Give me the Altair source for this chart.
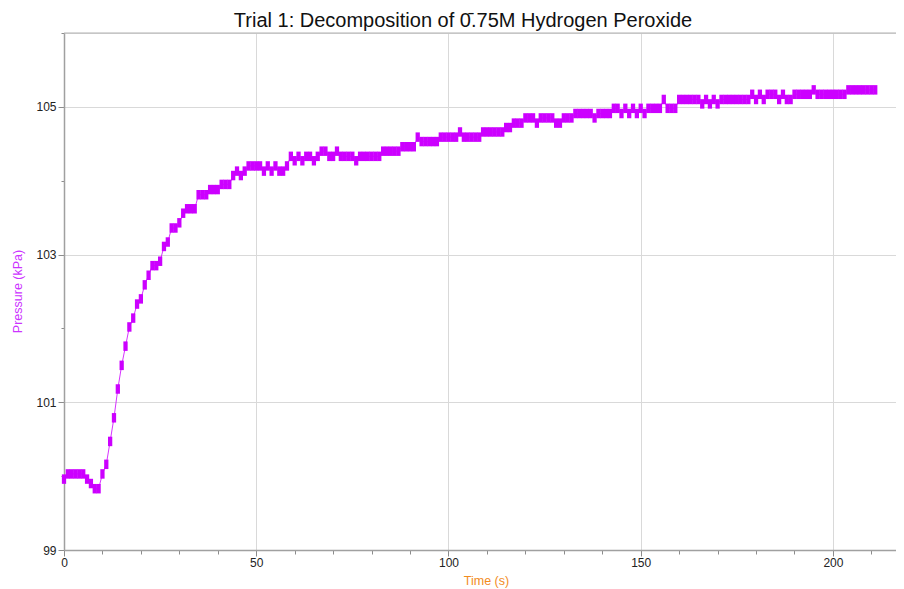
import altair as alt
import pandas as pd

# Sampling times (s), one reading per second
TIME_S = list(range(0, 212))

# Pressure readings (kPa)
PRESSURE_KPA = [
    99.96, 100.03, 100.03, 100.03, 100.03, 100.03, 99.96, 99.90, 99.83, 99.83,
    100.03, 100.16, 100.47, 100.79, 101.18, 101.50, 101.76, 102.02, 102.14, 102.33,
    102.40, 102.59, 102.72, 102.85, 102.85, 102.91, 103.11, 103.17, 103.36, 103.36,
    103.43, 103.56, 103.62, 103.62, 103.62, 103.81, 103.81, 103.81, 103.88, 103.88,
    103.88, 103.95, 103.95, 103.95, 104.07, 104.13, 104.07, 104.13, 104.20, 104.20,
    104.20, 104.20, 104.13, 104.20, 104.13, 104.20, 104.13, 104.13, 104.20, 104.33,
    104.27, 104.33, 104.27, 104.33, 104.33, 104.27, 104.33, 104.40, 104.40, 104.33,
    104.33, 104.40, 104.33, 104.33, 104.33, 104.33, 104.27, 104.33, 104.33, 104.33,
    104.33, 104.33, 104.33, 104.40, 104.40, 104.40, 104.40, 104.40, 104.46, 104.46,
    104.46, 104.46, 104.59, 104.53, 104.53, 104.53, 104.53, 104.53, 104.59, 104.59,
    104.59, 104.59, 104.59, 104.66, 104.59, 104.59, 104.59, 104.59, 104.59, 104.66,
    104.66, 104.66, 104.66, 104.66, 104.66, 104.72, 104.72, 104.78, 104.78, 104.78,
    104.85, 104.85, 104.85, 104.78, 104.85, 104.85, 104.85, 104.85, 104.78, 104.78,
    104.85, 104.85, 104.85, 104.91, 104.91, 104.91, 104.91, 104.91, 104.85, 104.91,
    104.91, 104.91, 104.91, 104.98, 104.98, 104.91, 104.98, 104.91, 104.98, 104.91,
    104.98, 104.91, 104.98, 104.98, 104.98, 104.98, 105.10, 104.98, 104.98, 104.98,
    105.10, 105.10, 105.10, 105.10, 105.10, 105.10, 105.04, 105.10, 105.04, 105.10,
    105.04, 105.10, 105.10, 105.10, 105.10, 105.10, 105.10, 105.10, 105.10, 105.17,
    105.10, 105.17, 105.10, 105.17, 105.17, 105.17, 105.10, 105.17, 105.10, 105.10,
    105.17, 105.17, 105.17, 105.17, 105.17, 105.23, 105.17, 105.17, 105.17, 105.17,
    105.17, 105.17, 105.17, 105.17, 105.23, 105.23, 105.23, 105.23, 105.23, 105.23,
    105.23, 105.23,
]

X_TICKS = [0, 10, 20, 30, 40, 50, 60, 70, 80, 90, 100, 110, 120, 130, 140, 150,
           160, 170, 180, 190, 200, 210]
Y_TICKS = [99, 100, 101, 102, 103, 104, 105, 106]
X_DOMAIN = [0, 216.4]
Y_DOMAIN = [99, 106]

TITLE = "Trial 1: Decomposition of 0\u0304.75M Hydrogen Peroxide"
X_TITLE = "Time (s)"
Y_TITLE = "Pressure (kPa)"

MAGENTA = "#CC00FF"
FONT = "Liberation Sans"

df = pd.DataFrame({"t": TIME_S, "p": PRESSURE_KPA})

x_enc = alt.X(
    "t:Q",
    scale=alt.Scale(domain=X_DOMAIN, nice=False, zero=False),
    axis=alt.Axis(
        values=X_TICKS,
        tickCount=40,
        format="d",
        title=X_TITLE,
        titleColor="#F28C1E",
        titleFont=FONT,
        titleFontSize=12.5,
        titleFontWeight="normal",
        titleX=422,
        titleY=30,
        titleBaseline="middle",
        labelExpr="datum.value % 50 == 0 ? datum.label : ''",
        labelFlush=False,
        labelOverlap=False,
        labelFont=FONT,
        labelFontSize=12,
        labelColor="#222222",
        labelPadding=1,
        grid=True,
        gridColor="#D9D9D9",
        gridOpacity={"condition": {"test": "datum.value % 50 == 0 && datum.value > 0", "value": 1}, "value": 0},
        tickSize={"condition": {"test": "datum.value % 50 == 0", "value": 6}, "value": 4},
        tickColor="#8C8C8C",
        domainColor="#A0A0A0",
        domainWidth=1.5,
    ),
)

y_enc = alt.Y(
    "p:Q",
    scale=alt.Scale(domain=Y_DOMAIN, nice=False, zero=False),
    axis=alt.Axis(
        values=Y_TICKS,
        tickCount=40,
        format="d",
        title=Y_TITLE,
        titleColor="#CC33FF",
        titleFont=FONT,
        titleFontSize=12.5,
        titleFontWeight="normal",
        titleX=-47,
        titleY=258,
        titleBaseline="middle",
        titleAlign="center",
        labelExpr="datum.value % 2 == 1 ? datum.label : ''",
        labelOverlap=False,
        labelFont=FONT,
        labelFontSize=12,
        labelColor="#222222",
        labelPadding=2,
        grid=True,
        gridColor="#D9D9D9",
        gridOpacity={"condition": {"test": "datum.value % 2 == 1 && datum.value > 99", "value": 1}, "value": 0},
        tickSize={"condition": {"test": "datum.value % 2 == 1", "value": 6}, "value": 3},
        tickColor="#8C8C8C",
        domainColor="#A0A0A0",
        domainWidth=1.5,
    ),
)

base = alt.Chart(df)

line = base.mark_line(color=MAGENTA, strokeWidth=1, opacity=0.8).encode(x=x_enc, y=y_enc)

points = base.mark_point(
    shape="M-0.45,-1H0.45V1H-0.45Z",
    filled=True,
    size=90,
    color=MAGENTA,
    opacity=1,
    strokeWidth=0,
).encode(x="t:Q", y="p:Q")

top_frame = alt.Chart(pd.DataFrame({"p": [Y_DOMAIN[1]]})).mark_rule(
    color="#B0B0B0", strokeWidth=1
).encode(y="p:Q")

chart = (
    alt.layer(line, points, top_frame)
    .properties(
        width=832,
        height=517,
        title=alt.TitleParams(
            text=TITLE,
            font=FONT,
            fontSize=20,
            fontWeight="normal",
            color="#111111",
            anchor="middle",
            offset=4,
            dx=-17,
            dy=8,
        ),
        autosize=alt.AutoSizeParams(type="none"),
        padding={"left": 56, "top": 25, "right": 0, "bottom": 38},
    )
    .configure_view(strokeWidth=0)
    .configure(background="white")
)

chart.save("out.html", embed_options={"renderer": "svg", "actions": False})
